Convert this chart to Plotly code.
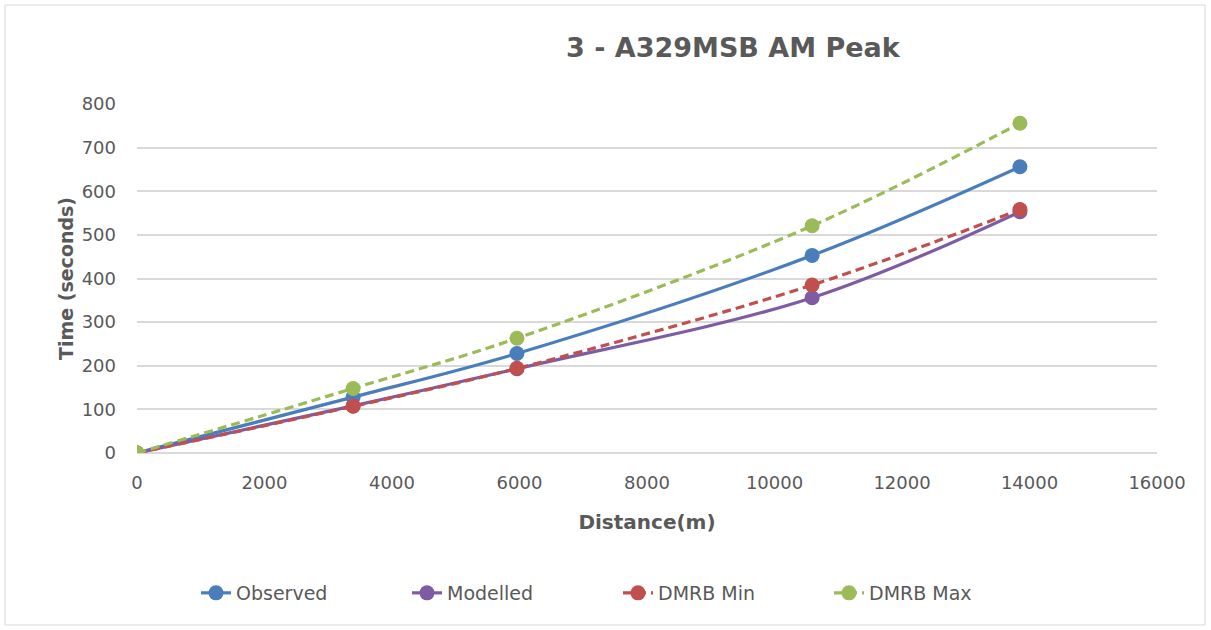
import plotly.graph_objects as go

distance = [0, 3390, 5960, 10590, 13850]
observed = [0, 128, 228, 453, 656]
modelled = [0, 108, 193, 356, 553]
dmrb_min = [0, 107, 194, 385, 558]
dmrb_max = [0, 148, 263, 521, 756]
x_ticks = list(range(0, 16001, 2000))
y_ticks = list(range(0, 801, 100))

FONT = "DejaVu Sans, sans-serif"
GREY = "#595959"

series = [
    ("Observed", observed, "#4a7ebb", "solid"),
    ("Modelled", modelled, "#7e5ca4", "solid"),
    ("DMRB Min", dmrb_min, "#c0504d", "9px,5px"),
    ("DMRB Max", dmrb_max, "#9bbb59", "9px,5px"),
]

fig = go.Figure()
for name, ys, color, dash in series:
    fig.add_trace(go.Scatter(
        x=distance, y=ys, name=name, mode="lines+markers",
        line=dict(color=color, width=3.2, dash=dash, shape="spline", smoothing=1.0),
        marker=dict(color=color, size=15),
    ))

L, R, T, B = 137, 1157, 104, 453
W = R - L
H = B - T

fig.update_layout(
    width=1211, height=630,
    paper_bgcolor="white", plot_bgcolor="white",
    margin=dict(l=L, r=1211 - R, t=T, b=630 - B),
    font=dict(family=FONT, color=GREY, size=17),
    showlegend=True,
    legend=dict(orientation="h", x=(618 - L) / W, xanchor="center", y=(B - 593) / H, yanchor="middle",
                font=dict(size=19, color=GREY), tracegroupgap=0,
                entrywidth=166, entrywidthmode="pixels"),
    annotations=[dict(text="<b>3 - A329MSB AM Peak</b>", x=(733 - L) / W, y=(B - 47) / H,
                      xref="paper", yref="paper", showarrow=False,
                      font=dict(size=27, color=GREY), xanchor="center", yanchor="middle")],
    shapes=[dict(type="rect", xref="paper", yref="paper",
                 x0=(5 - L) / W, x1=(1205 - L) / W, y0=(B - 625) / H, y1=(B - 5) / H,
                 line=dict(color="#d9d9d9", width=1), fillcolor="rgba(0,0,0,0)", layer="below")],
)

fig.update_xaxes(range=[0, 16000], tickvals=x_ticks, ticktext=[str(v) for v in x_ticks],
                 showgrid=False, zeroline=False, showline=False, ticks="",
                 tickfont=dict(size=18, color=GREY), ticklabelstandoff=17,
                 title=dict(text="<b>Distance(m)</b>", font=dict(size=20, color=GREY), standoff=22))
fig.update_yaxes(range=[0, 800], tickvals=y_ticks, ticktext=[str(v) for v in y_ticks],
                 showgrid=True, gridcolor="#d9d9d9",
                 gridwidth=1.5, zeroline=True, zerolinecolor="#d9d9d9", zerolinewidth=1.5,
                 showline=False, ticks="", tickfont=dict(size=18, color=GREY), ticklabelstandoff=20,
                 title=dict(text="<b>Time (seconds)</b>", font=dict(size=19, color=GREY), standoff=2))

fig.write_html("out.html")
